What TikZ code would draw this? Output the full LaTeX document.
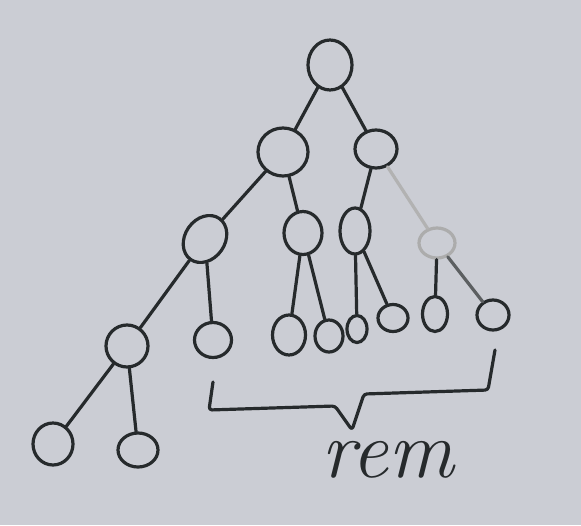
\documentclass[tikz,border=0pt]{standalone}
\usetikzlibrary{shapes.geometric}
\definecolor{paper}{RGB}{203,205,212}
\definecolor{pen}{RGB}{38,42,44}
\begin{document}
\begin{tikzpicture}[
        x=1pt, y=-1pt,
        knot/.style={ellipse, draw=pen, line width=3.2pt, inner sep=0pt},
        faint/.style={draw=gray!65},
        edge/.style={draw=pen, line width=3.2pt, line cap=round},
        tag/.style={text=pen, font=\fontsize{82}{82}\selectfont\itshape}
      ]
      \fill[paper] (0,0) rectangle (581,525);
      \useasboundingbox (0,0) rectangle (581,525);

      % levels 0 and 1
      \node[knot, minimum width=44pt, minimum height=50pt] (root) at (330,65) {};
      \node[knot, minimum width=50pt, minimum height=48pt] (l) at (283,152) {};
      \node[knot, minimum width=42pt, minimum height=38pt] (r) at (376,149) {};

      % level 2
      \node[knot, minimum width=40pt, minimum height=50pt, rotate=-35] (ll) at (205,239) {};
      \node[knot, minimum width=38pt, minimum height=43pt] (lr) at (303,233) {};
      \node[knot, minimum width=30pt, minimum height=46pt] (rl) at (355,231) {};
      \node[knot, faint, minimum width=36pt, minimum height=30pt] (rr) at (437,243) {};

      % level 3 and 4
      \foreach \n/\x/\y/\w/\h in {lll/127/346/42/42, llr/213/340/37/35,
          lrl/289/335/33/40, lrr/329/336/28/32, rll/357/329/20/27,
          rlr/393/318/30/27, rrl/435/314/25/35, rrr/493/315/32/30,
          llll/53/444/40/42, lllr/138/450/40/34}{
          \node[knot, minimum width=\w pt, minimum height=\h pt] (\n) at (\x,\y) {};
        }

      \draw[edge] (root) -- (l);
      \draw[edge] (root) -- (r);
      \draw[edge] (l) -- (ll);
      \draw[edge] (l) -- (lr);
      \draw[edge] (r) -- (rl);
      \draw[edge, draw=gray!60] (r) -- (rr);
      \draw[edge] (ll) -- (lll);
      \draw[edge] (ll) -- (llr);
      \draw[edge] (lr) -- (lrl);
      \draw[edge] (lr) -- (lrr);
      \draw[edge] (rl) -- (rll);
      \draw[edge] (rl) -- (rlr);
      \draw[edge] (rr) -- (rrl);
      \draw[edge, draw=pen!75] (rr) -- (rrr);
      \draw[edge] (lll) -- (llll);
      \draw[edge] (lll) -- (lllr);

      % brace under the remaining leaves
      \draw[edge, line join=round, rounded corners=3pt]
        (213,382) -- (209,410) -- (335,406) -- (352,430) -- (364,394)
        -- (488,390) -- (495,350);
      \node[tag] (rem) at (388,460) {rem};
    \end{tikzpicture}
\end{document}
